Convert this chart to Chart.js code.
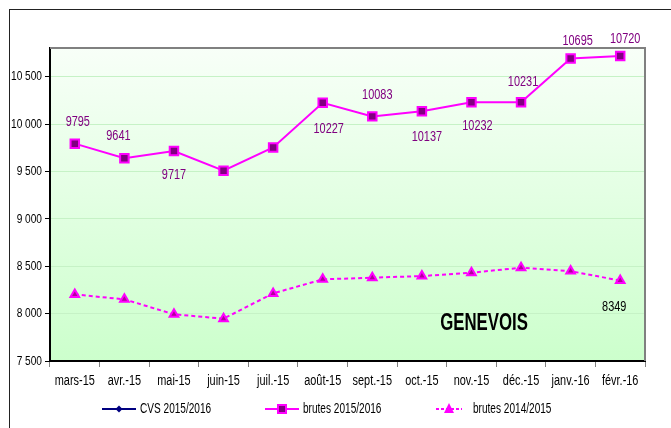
<!DOCTYPE html>
<html>
<head>
<meta charset="utf-8">
<script src="https://cdn.jsdelivr.net/npm/chart.js@4/dist/chart.umd.min.js"></script>
<style>
  html, body { margin: 0; padding: 0; background: #fff; }
  #wrap { position: relative; width: 671px; height: 428px; overflow: hidden; }
  #frame { position: absolute; left: 9px; top: 9px; width: 2000px; height: 2000px;
           border-left: 1px solid #222; border-top: 1px solid #222; }
  canvas { position: absolute; left: 0; top: 0; }
</style>
</head>
<body>
<div id="wrap">
  <div id="frame"></div>
  <canvas id="chart" width="671" height="428"></canvas>
</div>
<script>
const months = ['mars-15', 'avr.-15', 'mai-15', 'juin-15', 'juil.-15', 'août-15',
                'sept.-15', 'oct.-15', 'nov.-15', 'déc.-15', 'janv.-16', 'févr.-16'];
const cvs1516 = [null, null, null, null, null, null, null, null, null, null, null, null];
const brutes1516 = [9795, 9641, 9717, 9510, 9755, 10227, 10083, 10137, 10232, 10231, 10695, 10720];
const brutes1415 = [8203, 8151, 7993, 7947, 8214, 8362, 8380, 8397, 8432, 8485, 8449, 8349];
const yTicks = [7500, 8000, 8500, 9000, 9500, 10000, 10500];

// which points carry a value label, and where it sits (offset from the point)
const labels1516 = [[3, -22], [-6, -22], [0, 24], null, null, [6, 26],
                    [5, -21], [5, 26], [6, 24], [2, -20], [7, -17], [5, -17]];
const labels1415 = [null, null, null, null, null, null, null, null, null, null, null, [-6, 27]];

const FONT = "'Liberation Sans', Arial, sans-serif";
const NARROW = 0.78; // squeeze to look like Arial Narrow

Chart.defaults.font.family = FONT;
Chart.defaults.font.size = 13;
Chart.defaults.color = '#000';

// condensed text helper
function txt(ctx, s, x, y, font, color, align, sx) {
  ctx.save();
  ctx.font = font;
  ctx.fillStyle = color;
  ctx.textAlign = align || 'center';
  ctx.textBaseline = 'middle';
  ctx.translate(x, y);
  ctx.scale(sx || NARROW, 1);
  ctx.fillText(s, 0, 0);
  ctx.restore();
}

const fmt = v => String(v).replace(/\B(?=(\d{3})+(?!\d))/g, ' ');

const plotDecor = {
  id: 'plotDecor',
  beforeDraw(chart) {
    const { ctx, chartArea: a } = chart;
    const g = ctx.createLinearGradient(0, a.top, 0, a.bottom);
    g.addColorStop(0, '#f8fff8');
    g.addColorStop(1, '#ccffcc');
    ctx.save();
    ctx.fillStyle = g;
    ctx.fillRect(a.left, a.top, a.right - a.left, a.bottom - a.top);
    ctx.restore();
  },
  afterDraw(chart) {
    const { ctx, chartArea: a } = chart;
    const xs = chart.scales.x, ys = chart.scales.y;
    ctx.save();
    // gray top/right border of the plot
    ctx.strokeStyle = '#808080';
    ctx.lineWidth = 2;
    ctx.beginPath();
    ctx.moveTo(a.left, a.top);
    ctx.lineTo(a.right, a.top);
    ctx.lineTo(a.right, a.bottom);
    ctx.stroke();
    ctx.restore();

    // tick labels (condensed)
    months.forEach((m, i) => {
      txt(ctx, m, xs.getPixelForTick(i), 381, '14px ' + FONT, '#000', 'center');
    });
    yTicks.forEach(v => {
      txt(ctx, fmt(v), 42, ys.getPixelForValue(v), '13px ' + FONT, '#000', 'right');
    });

    // value labels
    const drawLabels = (dsIndex, places, color) => {
      const meta = chart.getDatasetMeta(dsIndex);
      const data = chart.data.datasets[dsIndex].data;
      meta.data.forEach((pt, i) => {
        const p = places[i];
        if (!p || data[i] == null) return;
        txt(ctx, String(data[i]), pt.x + p[0], pt.y + p[1], '14px ' + FONT, color, 'center');
      });
    };
    drawLabels(1, labels1516, '#800080');
    drawLabels(2, labels1415, '#000');

    // panel title
    txt(ctx, 'GENEVOIS', 484, 324, 'bold 23px ' + FONT, '#000', 'center', 0.73);

    // legend
    const ly = 409;
    ctx.save();
    ctx.lineWidth = 2;
    // CVS
    ctx.strokeStyle = '#000080';
    ctx.beginPath(); ctx.moveTo(102, ly); ctx.lineTo(136, ly); ctx.stroke();
    ctx.fillStyle = '#000080';
    ctx.beginPath();
    ctx.moveTo(119, ly - 3.5); ctx.lineTo(122.5, ly); ctx.lineTo(119, ly + 3.5); ctx.lineTo(115.5, ly);
    ctx.closePath(); ctx.fill();
    // brutes 2015/2016
    ctx.strokeStyle = '#ff00ff';
    ctx.beginPath(); ctx.moveTo(265, ly); ctx.lineTo(299, ly); ctx.stroke();
    ctx.fillStyle = '#ff00ff';
    ctx.fillRect(277, ly - 5, 10, 10);
    ctx.fillStyle = '#800080';
    ctx.fillRect(279, ly - 3, 6, 6);
    // brutes 2014/2015
    ctx.setLineDash([3, 2]);
    ctx.beginPath(); ctx.moveTo(436, ly); ctx.lineTo(462, ly); ctx.stroke();
    ctx.setLineDash([]);
    ctx.fillStyle = '#ff00ff';
    ctx.beginPath();
    ctx.moveTo(449, ly - 6); ctx.lineTo(454, ly + 4); ctx.lineTo(444, ly + 4);
    ctx.closePath(); ctx.fill();
    ctx.restore();
    txt(ctx, 'CVS 2015/2016', 140, ly, '14px ' + FONT, '#000', 'left', 0.72);
    txt(ctx, 'brutes 2015/2016', 303, ly, '14px ' + FONT, '#000', 'left', 0.72);
    txt(ctx, 'brutes 2014/2015', 473, ly, '14px ' + FONT, '#000', 'left', 0.72);
  }
};

new Chart(document.getElementById('chart').getContext('2d'), {
  type: 'line',
  data: {
    labels: months,
    datasets: [{
      label: 'CVS 2015/2016',
      data: cvs1516,
      borderColor: '#000080',
      backgroundColor: '#000080',
      borderWidth: 2,
      pointStyle: 'rectRot',
      pointRadius: 3
    }, {
      label: 'brutes 2015/2016',
      data: brutes1516,
      borderColor: '#ff00ff',
      backgroundColor: '#800080',
      borderWidth: 2,
      pointStyle: 'rect',
      pointRadius: 6,
      pointBorderColor: '#ff00ff',
      pointBackgroundColor: '#800080',
      pointBorderWidth: 2,
      tension: 0
    }, {
      label: 'brutes 2014/2015',
      data: brutes1415,
      borderColor: '#ff00ff',
      borderDash: [4, 3],
      borderWidth: 2,
      pointStyle: 'triangle',
      pointRadius: 5,
      pointBorderColor: '#ff00ff',
      pointBackgroundColor: '#b0009a',
      pointBorderWidth: 2,
      tension: 0
    }]
  },
  options: {
    responsive: false,
    animation: false,
    layout: { padding: { top: 48, right: 26, left: 0, bottom: 0 } },
    plugins: {
      legend: { display: false },
      tooltip: { enabled: false }
    },
    scales: {
      x: {
        type: 'category',
        offset: true,
        grid: {
          offset: true,
          drawOnChartArea: false,
          drawTicks: true,
          tickLength: 6,
          tickColor: '#808080'
        },
        border: { display: true, color: '#000', width: 2 },
        ticks: { padding: 7, maxRotation: 0, autoSkip: false, color: 'rgba(0,0,0,0)' },
        afterFit(scale) { scale.height = 67; }
      },
      y: {
        min: 7500,
        max: 10805,
        afterBuildTicks(scale) { scale.ticks = yTicks.map(v => ({ value: v })); },
        grid: {
          color: '#c6f2c6',
          tickColor: '#000',
          tickLength: 5,
          lineWidth: 1
        },
        border: { display: true, color: '#000', width: 2 },
        ticks: { padding: 3, color: 'rgba(0,0,0,0)', callback: fmt },
        afterFit(scale) { scale.width = 50; }
      }
    }
  },
  plugins: [plotDecor]
});
</script>
</body>
</html>
